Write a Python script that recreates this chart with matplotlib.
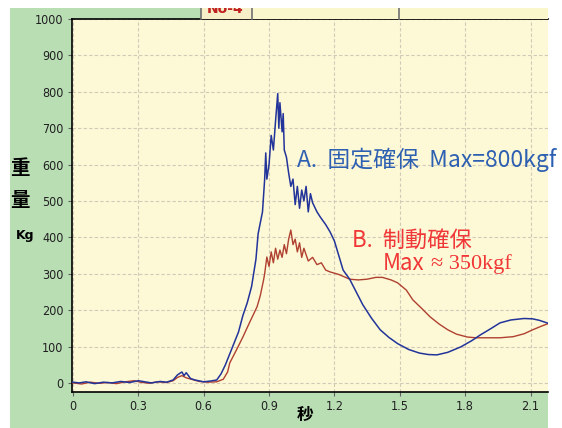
import numpy as np
import matplotlib as mpl
from matplotlib import pyplot as plt
from matplotlib.patches import Rectangle

mpl.rcParams['font.family'] = ['Noto Sans CJK JP', 'DejaVu Sans']

# series A (fixed)
t_a = [0.00, 0.03, 0.06, 0.10, 0.14, 0.18, 0.22, 0.26, 0.30, 0.33, 0.36, 0.40, 0.43, 0.46,
       0.48, 0.50, 0.51, 0.52, 0.54, 0.56, 0.60, 0.63, 0.66, 0.68, 0.70, 0.72, 0.74, 0.76,
       0.78, 0.80, 0.82, 0.84, 0.85, 0.86, 0.87, 0.88, 0.885, 0.89, 0.90, 0.91, 0.92, 0.93,
       0.94, 0.945, 0.95, 0.96, 0.965, 0.97, 0.98, 0.99, 1.00, 1.01, 1.02, 1.03, 1.04, 1.05,
       1.06, 1.07, 1.08, 1.09, 1.10, 1.12, 1.135, 1.16, 1.18, 1.20, 1.22, 1.24, 1.27, 1.30,
       1.33, 1.37, 1.41, 1.45, 1.49, 1.54, 1.59, 1.63, 1.67, 1.72, 1.78, 1.83, 1.87, 1.92,
       1.96, 2.01, 2.07, 2.11, 2.14, 2.19]
v_a = [2, 0, 3, -2, 2, 0, 4, 1, 6, 3, 0, 4, 2, 8,
       22, 30, 20, 28, 12, 8, 3, 5, 8, 25, 50, 80, 110, 140,
       185, 220, 265, 340, 410, 440, 470, 560, 632, 560, 600, 680, 640, 720,
       795, 700, 770, 690, 740, 640, 620, 577, 540, 560, 490, 540, 480, 530,
       500, 540, 470, 520, 495, 470, 456, 435, 415, 390, 350, 310, 285, 250,
       215, 178, 146, 125, 108, 92, 82, 78, 77, 84, 99, 116, 132, 150,
       165, 173, 177, 176, 172, 162]

# series B (braking)
t_b = [0.00, 0.04, 0.08, 0.12, 0.16, 0.20, 0.24, 0.28, 0.31, 0.35, 0.39, 0.43, 0.46, 0.48,
       0.50, 0.52, 0.55, 0.58, 0.62, 0.66, 0.69, 0.71, 0.72, 0.75, 0.78, 0.81, 0.845, 0.86,
       0.875, 0.88, 0.89, 0.90, 0.91, 0.92, 0.93, 0.94, 0.95, 0.96, 0.97, 0.98, 0.99, 1.00,
       1.01, 1.02, 1.03, 1.04, 1.05, 1.06, 1.08, 1.10, 1.12, 1.14, 1.16, 1.18, 1.22, 1.27,
       1.31, 1.35, 1.39, 1.42, 1.46, 1.49, 1.53, 1.56, 1.60, 1.64, 1.68, 1.72, 1.76, 1.81,
       1.85, 1.90, 1.96, 2.02, 2.07, 2.11, 2.15, 2.19]
v_b = [0, -3, 2, -1, 1, -2, 3, 6, 2, -1, 3, 1, 6, 15,
       20, 14, 9, 4, 2, 3, 10, 30, 55, 90, 126, 165, 209, 240,
       283, 300, 346, 320, 360, 330, 370, 340, 365, 345, 380, 355, 395, 420,
       380, 395, 360, 385, 345, 370, 335, 345, 325, 330, 310, 305, 298, 285,
       283, 285, 290, 290, 283, 275, 255, 228, 205, 181, 162, 146, 134, 126,
       124, 124, 124, 127, 135, 146, 156, 165]

x_ticks = [0, 0.3, 0.6, 0.9, 1.2, 1.5, 1.8, 2.1]
x_labels = ['0', '0.3', '0.6', '0.9', '1.2', '1.5', '1.8', '2.1']
y_ticks = [0, 100, 200, 300, 400, 500, 600, 700, 800, 900, 1000]

W, H = 562, 428
fig = plt.figure(figsize=(W / 100, H / 100), dpi=100, facecolor='white')

# green panel and top strip
fig.add_artist(Rectangle((10 / W, 0), 538 / W, 420 / H, transform=fig.transFigure,
                         facecolor='#b9deb4', edgecolor='none', zorder=0))
fig.add_artist(Rectangle((201 / W, 409 / H), 51 / W, 11 / H, transform=fig.transFigure,
                         facecolor='#f6efc8', edgecolor='none', zorder=0.5))
fig.add_artist(Rectangle((252 / W, 409 / H), 296 / W, 11 / H, transform=fig.transFigure,
                         facecolor='#fbf7cc', edgecolor='none', zorder=0.5))
for px in [201, 252, 399]:
    fig.add_artist(plt.Line2D([px / W, px / W], [409 / H, 420 / H], transform=fig.transFigure,
                              color='#707070', lw=1.2, zorder=0.6))
# tab label, top half cut off as in the screenshot
fig.text(225 / W, 1 - 9 / H, 'No-4', color='#c02020', fontsize=10, fontweight='bold',
         ha='center', va='center', family=['DejaVu Sans'], zorder=0.7)
fig.add_artist(Rectangle((0, 420 / H), 1, 8 / H, transform=fig.transFigure,
                         facecolor='white', edgecolor='none', zorder=0.8))

ax = fig.add_axes([72 / W, 36 / H, 476 / W, 373 / H])
ax.set_facecolor('#fdf8d6')
ax.plot(t_b, v_b, color='#b0402f', lw=1.0, zorder=3)
ax.plot(t_a, v_a, color='#22349a', lw=1.1, zorder=4)

ax.set_xlim(-0.004, 2.18)
ax.set_ylim(-25, 1000)
ax.set_xticks(x_ticks)
ax.set_xticklabels(x_labels)
ax.set_yticks(y_ticks)
ax.grid(True, color='#d2cab6', lw=0.8, linestyle=(0, (3, 2)))
ax.set_axisbelow(True)
for s in ['left', 'top', 'bottom']:
    ax.spines[s].set_color('black')
    ax.spines[s].set_linewidth(1.2)
ax.spines['right'].set_visible(False)
ax.tick_params(length=3, width=0.8, color='#606060', labelsize=9, pad=3)
for lab in ax.get_xticklabels() + ax.get_yticklabels():
    lab.set_family(['DejaVu Sans'])
    lab.set_fontstretch('condensed')
    lab.set_color('#202020')

# axis labels
fig.text(20 / W, 1 - 168 / H, '重', fontsize=14, fontweight='bold', ha='center', va='center')
fig.text(20 / W, 1 - 200 / H, '量', fontsize=14, fontweight='bold', ha='center', va='center')
fig.text(25 / W, 1 - 236 / H, 'Kg', fontsize=9, fontweight='bold', ha='center', va='center',
         family=['DejaVu Sans'])
fig.text(305 / W, 1 - 415 / H, '秒', fontsize=12, fontweight='bold', ha='center', va='center')

# annotations
ax.text(1.03, 613, 'A.  固定確保  Max=800kgf', color='#2e60b2', fontsize=16.5,
        ha='left', va='center', zorder=6)
ax.text(1.28, 393, 'B.  制動確保', color='#f03636', fontsize=16,
        ha='left', va='center', zorder=6)
ax.text(1.42, 327, 'Max', color='#f03636', fontsize=16, ha='left', va='center', zorder=6)
ax.text(1.645, 327, '≈ 350kgf', color='#f03636', fontsize=16, ha='left', va='center',
        family=['Liberation Serif', 'DejaVu Serif'], zorder=6)

fig.savefig('out.png', dpi=100, facecolor='white')
